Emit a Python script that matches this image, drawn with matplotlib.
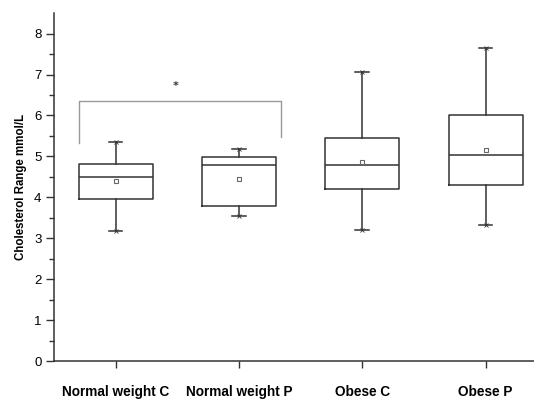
import numpy as np
import matplotlib.pyplot as plt

groups = ["Normal weight C", "Normal weight P", "Obese C", "Obese P"]
whis_lo = [3.18, 3.55, 3.20, 3.32]
q1 = [3.97, 3.79, 4.21, 4.30]
median = [4.50, 4.79, 4.79, 5.04]
q3 = [4.82, 4.99, 5.45, 6.01]
whis_hi = [5.35, 5.18, 7.07, 7.65]
mean = [4.40, 4.45, 4.87, 5.16]

# significance bracket between the two normal-weight groups
bracket_left_y = 5.32
bracket_top_y = 6.35
bracket_right_y = 5.48
star_y = 6.72

LINE = "#333333"
FONT = ["Liberation Sans", "DejaVu Sans"]

fig = plt.figure(figsize=(5.34, 3.99), dpi=100)
ax = fig.add_axes([0.101, 0.095, 0.91, 0.872])

pos = np.arange(1, len(groups) + 1)
stats = []
for i, g in enumerate(groups):
    stats.append(dict(label=g, whislo=whis_lo[i], q1=q1[i], med=median[i],
                      q3=q3[i], whishi=whis_hi[i], mean=mean[i], fliers=[]))

ax.bxp(stats, positions=pos, widths=0.6, showmeans=True, showfliers=False,
       capwidths=0.11,
       boxprops=dict(color=LINE, lw=1.1),
       medianprops=dict(color=LINE, lw=1.1),
       whiskerprops=dict(color=LINE, lw=1.1),
       capprops=dict(color=LINE, lw=1.1),
       meanprops=dict(marker="s", markersize=3.5, markerfacecolor="white",
                      markeredgecolor="#666666", markeredgewidth=0.8))

# small cross markers at whisker ends
ax.plot(pos, whis_hi, ls="none", marker="x", ms=3, mew=0.6, color=LINE)
ax.plot(pos, whis_lo, ls="none", marker="x", ms=3, mew=0.6, color=LINE)

bx0 = pos[0] - 0.30
bx1 = pos[1] + 0.34
ax.plot([bx0, bx0, bx1, bx1],
        [bracket_left_y, bracket_top_y, bracket_top_y, bracket_right_y],
        color="#999999", lw=1.0)
ax.text((pos[0] + pos[1]) / 2 - 0.015, star_y, "*", ha="center", va="center",
        fontsize=8, color=LINE, fontweight="bold")

ax.set_xlim(0.5, 4.44)
ax.set_ylim(0, 8.5)
ax.set_yticks(np.arange(0, 9, 1))
ax.set_yticks(np.arange(0.5, 8.5, 1), minor=True)
ax.set_xticks(pos)
ax.set_xticklabels(groups, fontsize=9.8, fontweight="bold", family=FONT)
for lab in ax.get_yticklabels():
    lab.set_fontsize(9.5)
    lab.set_family(FONT)

ax.tick_params(axis="y", which="major", length=6, width=1.0, color=LINE, pad=3)
ax.tick_params(axis="y", which="minor", length=3.5, width=1.0, color=LINE)
ax.tick_params(axis="x", which="major", length=5, width=1.0, color=LINE, pad=12)

for side in ("top", "right"):
    ax.spines[side].set_visible(False)
for side in ("left", "bottom"):
    ax.spines[side].set_color(LINE)
    ax.spines[side].set_linewidth(1.1)

ax.set_ylabel("Cholesterol Range mmol/L", fontsize=8.3, fontweight="bold",
              family=FONT, labelpad=5)

fig.savefig("out.png", dpi=100)
